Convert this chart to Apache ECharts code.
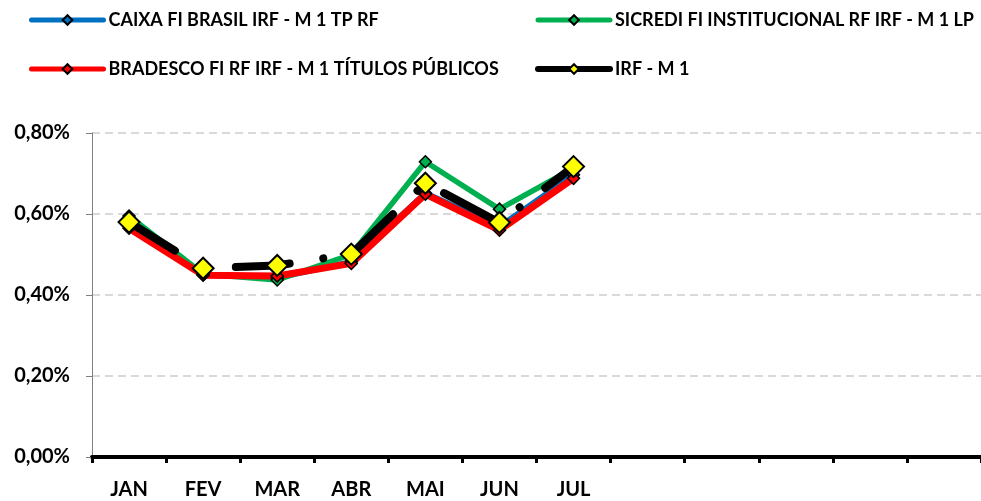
<!DOCTYPE html>
<html>
<head>
<meta charset="utf-8">
<script src="https://cdn.jsdelivr.net/npm/echarts@6/dist/echarts.min.js"></script>
<style>
html,body{margin:0;padding:0;background:#fff;}
#chart{width:981px;height:501px;}
</style>
</head>
<body>
<div id="chart"></div>
<script>
const categories = ['JAN','FEV','MAR','ABR','MAI','JUN','JUL','','','','',''];
const seriesNames = ['CAIXA FI BRASIL IRF - M 1 TP RF','SICREDI FI INSTITUCIONAL RF IRF - M 1 LP','BRADESCO FI RF IRF - M 1 TÍTULOS PÚBLICOS','IRF - M 1'];
const caixa    = [0.575, 0.450, 0.442, 0.482, 0.652, 0.569, 0.697];
const sicredi  = [0.595, 0.452, 0.437, 0.500, 0.729, 0.612, 0.713];
const bradesco = [0.565, 0.449, 0.447, 0.478, 0.649, 0.560, 0.688];
const irfm1    = [0.580, 0.466, 0.473, 0.501, 0.676, 0.579, 0.717];
const yTicks = [0, 0.2, 0.4, 0.6, 0.8];

const FONT = 'Lato';
const chart = echarts.init(document.getElementById('chart'), null, {renderer:'canvas'});

function smallSeries(name, data, color, width){
  return {
    name, type:'line', data,
    symbol:'diamond', symbolSize:12,
    itemStyle:{color, borderColor:'#000', borderWidth:1.5},
    lineStyle:{color, width, cap:'round', join:'round'},
    emphasis:{disabled:true}
  };
}
const legendText = {fontFamily:FONT, fontWeight:'bold', fontSize:18, lineHeight:18, color:'#000'};
const legLine = (w, c) => ({width:w, cap:'round', type:'solid', color:c});

chart.setOption({
  animation:false,
  backgroundColor:'#fff',
  legend:[
    {left:29, top:11, padding:0, orient:'vertical', itemWidth:72, itemHeight:12, itemGap:31,
     textStyle:legendText, selectedMode:false,
     data:[{name:seriesNames[0], lineStyle:legLine(5,'#0070C0')},{name:seriesNames[2], lineStyle:legLine(5,'#FF0000')}]},
    {left:535, top:11, padding:0, orient:'vertical', itemWidth:72, itemHeight:12, itemGap:31,
     textStyle:legendText, selectedMode:false,
     data:[{name:seriesNames[1], lineStyle:legLine(5,'#00B050')},{name:seriesNames[3], lineStyle:legLine(6,'#000')}]}
  ],
  grid:{left:92, right:-11, top:133, bottom:44, containLabel:false},
  xAxis:{
    type:'category', data:categories, boundaryGap:true,
    axisLine:{show:true, lineStyle:{color:'#000', width:4}},
    axisTick:{show:true, alignWithLabel:false, length:6, lineStyle:{color:'#000', width:3}},
    axisLabel:{interval:0, margin:23, fontFamily:FONT, fontWeight:'bold', fontSize:20, color:'#000'},
    splitLine:{show:false}
  },
  yAxis:{
    type:'value', min:yTicks[0], max:yTicks[yTicks.length-1], interval:0.2,
    axisLine:{show:true, lineStyle:{color:'#808080', width:1}},
    axisTick:{show:true, length:6, lineStyle:{color:'#808080', width:1}},
    axisLabel:{margin:22, fontFamily:FONT, fontWeight:'bold', fontSize:20, color:'#000',
      formatter:v=>v.toFixed(2).replace('.',',')+'%'},
    splitLine:{show:true, lineStyle:{color:'#D9D9D9', width:2, type:[8,5]}}
  },
  series:[
    smallSeries(seriesNames[0], caixa, '#0070C0', 5.5),
    smallSeries(seriesNames[1], sicredi, '#00B050', 5.5),
    smallSeries(seriesNames[2], bradesco, '#FF0000', 7),
    {
      name:seriesNames[3], type:'line', data:irfm1,
      symbol:'diamond', symbolSize:21,
      itemStyle:{color:'#FFFF00', borderColor:'#000', borderWidth:2},
      lineStyle:{color:'#000', width:8, cap:'round', join:'round', type:[54,34,0.01,32]},
      emphasis:{disabled:true}
    }
  ]
});
</script>
</body>
</html>
